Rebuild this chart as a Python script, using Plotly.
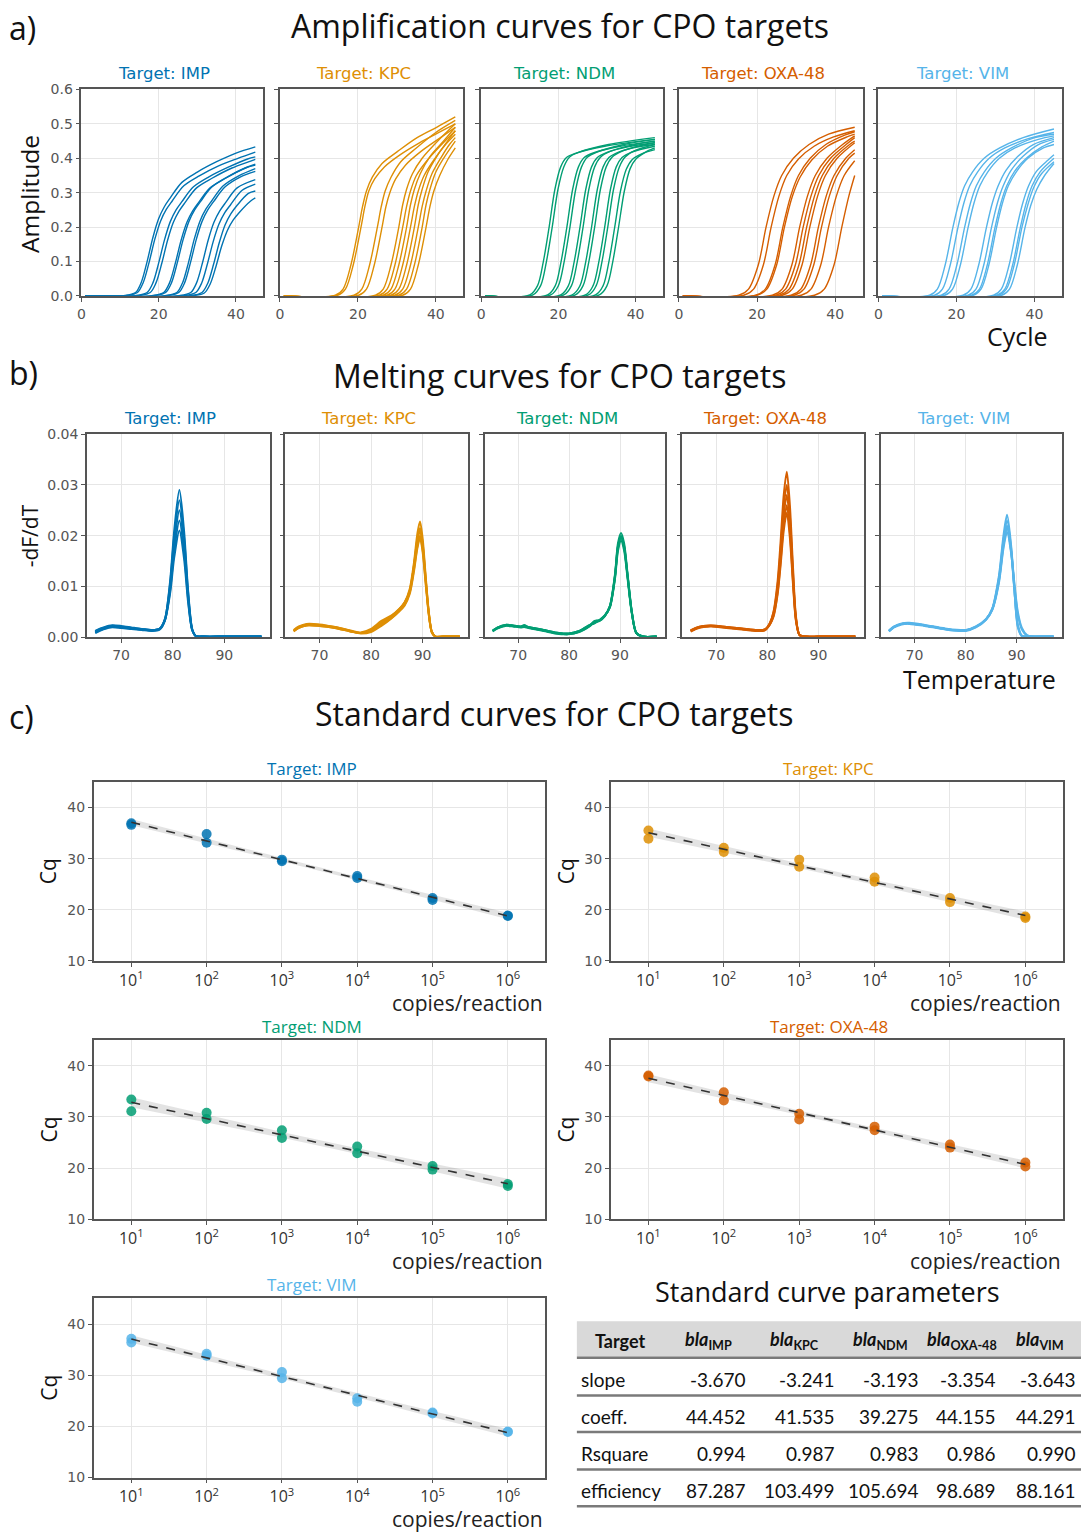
import numpy as np
import plotly.graph_objects as go

W, H = 1081, 1536

targets = ["IMP", "KPC", "NDM", "OXA-48", "VIM"]
colors = ["#0173b2", "#de8f05", "#029e73", "#d55e00", "#56b4e9"]

# ---------------- a) amplification curves (cycle, amplitude) ----------------
amp_imp_x = [
    [1, 11, 14, 15.5, 17, 18.5, 20, 21.5, 23, 26, 30, 35, 40, 45],
    [1, 11.5, 14.5, 16, 17.5, 19, 20.5, 22, 23.5, 26.5, 30.5, 35.5, 40.5, 45],
    [1, 14, 17, 18.5, 20, 21.5, 23, 24.5, 26, 29, 33, 38, 43, 45],
    [1, 14.8, 17.8, 19.3, 20.8, 22.3, 23.8, 25.3, 26.8, 29.8, 33.8, 38.8, 43.8, 45],
    [1, 18.3, 21.3, 22.8, 24.3, 25.8, 27.3, 28.8, 30.3, 33.3, 37.3, 42.3, 45],
    [1, 18.8, 21.8, 23.3, 24.8, 26.3, 27.8, 29.3, 30.8, 33.8, 37.8, 42.8, 45],
    [1, 21.7, 24.7, 26.2, 27.7, 29.2, 30.7, 32.2, 33.7, 36.7, 40.7, 45],
    [1, 22.2, 25.2, 26.7, 28.2, 29.7, 31.2, 32.7, 34.2, 37.2, 41.2, 45],
    [1, 25.3, 28.3, 29.8, 31.3, 32.8, 34.3, 35.8, 37.3, 40.3, 45],
    [1, 26.6, 29.6, 31.1, 32.6, 34.1, 35.6, 37.1, 38.6, 41.6, 45],
    [1, 28.2, 31.2, 32.7, 34.2, 35.7, 37.2, 38.7, 40.2, 43.2, 45],
    [1, 28.8, 31.8, 33.3, 34.8, 36.3, 37.8, 39.3, 40.8, 43.8, 45],
]
amp_imp_y = [
    [0, 0.001, 0.01, 0.04, 0.10, 0.17, 0.225, 0.26, 0.285, 0.33, 0.36, 0.39, 0.415, 0.433],
    [0, 0.001, 0.01, 0.039, 0.097, 0.165, 0.218, 0.252, 0.276, 0.32, 0.349, 0.378, 0.40, 0.418],
    [0, 0.001, 0.01, 0.038, 0.096, 0.163, 0.216, 0.25, 0.274, 0.317, 0.346, 0.374, 0.398, 0.404],
    [0, 0.001, 0.01, 0.038, 0.095, 0.162, 0.214, 0.247, 0.271, 0.314, 0.342, 0.371, 0.392, 0.397],
    [0, 0.001, 0.01, 0.038, 0.095, 0.162, 0.214, 0.247, 0.271, 0.314, 0.342, 0.371, 0.38],
    [0, 0.001, 0.01, 0.038, 0.096, 0.163, 0.216, 0.25, 0.274, 0.317, 0.346, 0.374, 0.383],
    [0, 0.001, 0.01, 0.039, 0.097, 0.165, 0.218, 0.252, 0.276, 0.32, 0.349, 0.37],
    [0, 0.001, 0.01, 0.038, 0.096, 0.163, 0.216, 0.25, 0.274, 0.317, 0.346, 0.362],
    [0, 0.001, 0.01, 0.038, 0.095, 0.162, 0.214, 0.247, 0.271, 0.314, 0.338],
    [0, 0.001, 0.01, 0.037, 0.093, 0.158, 0.209, 0.242, 0.265, 0.307, 0.325],
    [0, 0.001, 0.01, 0.037, 0.092, 0.156, 0.207, 0.239, 0.262, 0.298, 0.305],
    [0, 0.001, 0.0085, 0.034, 0.085, 0.145, 0.191, 0.221, 0.242, 0.276, 0.285],
]

amp_kpc_x = [
    [1, 14.2, 16.2, 18.2, 20.2, 21.2, 22.2, 23.7, 26.2, 30.2, 35.2, 40.2, 45],
    [1, 14.8, 16.8, 18.8, 20.8, 21.8, 22.8, 24.3, 26.8, 30.8, 35.8, 40.8, 45],
    [1, 19, 21, 23, 25, 26, 27, 28.5, 31, 35, 40, 45],
    [1, 20.2, 22.2, 24.2, 26.2, 27.2, 28.2, 29.7, 32.2, 36.2, 41.2, 45],
    [1, 24.5, 26.5, 28.5, 30.5, 31.5, 32.5, 34, 36.5, 40.5, 45],
    [1, 25.5, 27.5, 29.5, 31.5, 32.5, 33.5, 35, 37.5, 41.5, 45],
    [1, 26.5, 28.5, 30.5, 32.5, 33.5, 34.5, 36, 38.5, 42, 45],
    [1, 27.5, 29.5, 31.5, 33.5, 34.5, 35.5, 37, 39.5, 42.5, 45],
    [1, 28.5, 30.5, 32.5, 34.5, 35.5, 36.5, 38, 40.5, 43, 45],
    [1, 29.5, 31.5, 33.5, 35.5, 36.5, 37.5, 39, 41.5, 43.5, 45],
    [1, 30.5, 32.5, 34.5, 36.5, 37.5, 38.5, 40, 42, 45],
    [1, 31.5, 33.5, 35.5, 37.5, 38.5, 39.5, 41, 43, 45],
]
amp_kpc_y = [
    [0, 0.002, 0.02, 0.09, 0.2, 0.26, 0.305, 0.345, 0.385, 0.42, 0.46, 0.49, 0.52],
    [0, 0.002, 0.02, 0.09, 0.2, 0.26, 0.305, 0.34, 0.375, 0.41, 0.445, 0.475, 0.50],
    [0, 0.002, 0.02, 0.09, 0.2, 0.26, 0.305, 0.345, 0.39, 0.43, 0.475, 0.51],
    [0, 0.002, 0.02, 0.09, 0.2, 0.26, 0.30, 0.34, 0.38, 0.42, 0.46, 0.49],
    [0, 0.002, 0.02, 0.09, 0.2, 0.265, 0.31, 0.355, 0.40, 0.45, 0.50],
    [0, 0.002, 0.02, 0.09, 0.2, 0.26, 0.305, 0.35, 0.39, 0.44, 0.48],
    [0, 0.002, 0.02, 0.09, 0.2, 0.265, 0.31, 0.355, 0.405, 0.45, 0.49],
    [0, 0.002, 0.02, 0.09, 0.2, 0.26, 0.305, 0.35, 0.395, 0.44, 0.47],
    [0, 0.002, 0.02, 0.09, 0.2, 0.265, 0.31, 0.36, 0.41, 0.45, 0.48],
    [0, 0.002, 0.02, 0.09, 0.2, 0.26, 0.305, 0.355, 0.405, 0.44, 0.46],
    [0, 0.002, 0.02, 0.09, 0.2, 0.265, 0.31, 0.36, 0.40, 0.45],
    [0, 0.002, 0.02, 0.09, 0.2, 0.26, 0.305, 0.35, 0.395, 0.43],
]

amp_ndm_x = [
    [1, 12.6, 14.6, 16.1, 17.6, 19.1, 20.6, 22.1, 24.6, 32, 45],
    [1, 13.4, 15.4, 16.9, 18.4, 19.9, 21.4, 22.9, 25.4, 33, 45],
    [1, 17.2, 19.2, 20.7, 22.2, 23.7, 25.2, 26.7, 29.2, 36, 45],
    [1, 18, 20, 21.5, 23, 24.5, 26, 27.5, 30, 37, 45],
    [1, 20.6, 22.6, 24.1, 25.6, 27.1, 28.6, 30.1, 32.6, 38, 45],
    [1, 21.4, 23.4, 24.9, 26.4, 27.9, 29.4, 30.9, 33.4, 39, 45],
    [1, 23.6, 25.6, 27.1, 28.6, 30.1, 31.6, 33.1, 35.6, 40, 45],
    [1, 24.4, 26.4, 27.9, 29.4, 30.9, 32.4, 33.9, 36.4, 41, 45],
    [1, 27, 29, 30.5, 32, 33.5, 35, 36.5, 39, 45],
    [1, 27.8, 29.8, 31.3, 32.8, 34.3, 35.8, 37.3, 39.8, 45],
    [1, 29.6, 31.6, 33.1, 34.6, 36.1, 37.6, 39.1, 41.6, 45],
    [1, 30.6, 32.6, 34.1, 35.6, 37.1, 38.6, 40.1, 42.6, 45],
]
amp_ndm_y = [
    [0, 0.003, 0.03, 0.1, 0.2, 0.31, 0.375, 0.402, 0.415, 0.435, 0.455],
    [0, 0.003, 0.03, 0.1, 0.2, 0.31, 0.375, 0.404, 0.418, 0.44, 0.46],
    [0, 0.003, 0.03, 0.1, 0.2, 0.31, 0.375, 0.402, 0.416, 0.435, 0.45],
    [0, 0.003, 0.03, 0.1, 0.2, 0.31, 0.375, 0.403, 0.418, 0.44, 0.455],
    [0, 0.003, 0.03, 0.1, 0.2, 0.31, 0.375, 0.402, 0.417, 0.433, 0.445],
    [0, 0.003, 0.03, 0.1, 0.2, 0.31, 0.375, 0.403, 0.42, 0.438, 0.45],
    [0, 0.003, 0.03, 0.1, 0.2, 0.31, 0.375, 0.402, 0.418, 0.432, 0.44],
    [0, 0.003, 0.03, 0.1, 0.2, 0.31, 0.375, 0.403, 0.42, 0.436, 0.445],
    [0, 0.003, 0.03, 0.1, 0.2, 0.31, 0.375, 0.402, 0.418, 0.435],
    [0, 0.003, 0.03, 0.1, 0.2, 0.31, 0.375, 0.404, 0.422, 0.44],
    [0, 0.003, 0.03, 0.1, 0.2, 0.305, 0.368, 0.396, 0.413, 0.425],
    [0, 0.003, 0.03, 0.1, 0.2, 0.305, 0.37, 0.398, 0.418, 0.43],
]

amp_oxa_x = [
    [1, 15.3, 17.8, 20.3, 22.3, 24.3, 26.3, 29.3, 33.3, 38.3, 45],
    [1, 16.6, 19.1, 21.6, 23.6, 25.6, 27.6, 30.6, 34.6, 39.6, 45],
    [1, 19.6, 22.1, 24.6, 26.6, 28.6, 30.6, 33.6, 37.6, 42.6, 45],
    [1, 20, 22.5, 25, 27, 29, 31, 34, 38, 43, 45],
    [1, 23.9, 26.4, 28.9, 30.9, 32.9, 34.9, 37.9, 41.9, 45],
    [1, 24.8, 27.3, 29.8, 31.8, 33.8, 35.8, 38.8, 42.8, 45],
    [1, 25.7, 28.2, 30.7, 32.7, 34.7, 36.7, 39.7, 43.7, 45],
    [1, 26.5, 29, 31.5, 33.5, 35.5, 37.5, 40.5, 45],
    [1, 28.7, 31.2, 33.7, 35.7, 37.7, 39.7, 42.7, 45],
    [1, 29.5, 32, 34.5, 36.5, 38.5, 40.5, 43.5, 45],
    [1, 31.3, 33.8, 36.3, 38.3, 40.3, 42.3, 45],
    [1, 34.7, 37.2, 39.7, 41.7, 43.5, 45],
]
amp_oxa_y = [
    [0, 0.002, 0.02, 0.09, 0.2, 0.29, 0.35, 0.40, 0.44, 0.47, 0.49],
    [0, 0.002, 0.02, 0.09, 0.2, 0.29, 0.35, 0.398, 0.435, 0.462, 0.48],
    [0, 0.002, 0.02, 0.09, 0.2, 0.29, 0.35, 0.40, 0.44, 0.468, 0.477],
    [0, 0.002, 0.02, 0.09, 0.2, 0.288, 0.345, 0.395, 0.435, 0.462, 0.47],
    [0, 0.002, 0.02, 0.09, 0.2, 0.29, 0.35, 0.40, 0.44, 0.465],
    [0, 0.002, 0.02, 0.09, 0.2, 0.29, 0.35, 0.40, 0.44, 0.46],
    [0, 0.002, 0.02, 0.09, 0.2, 0.29, 0.35, 0.40, 0.44, 0.45],
    [0, 0.002, 0.02, 0.09, 0.2, 0.29, 0.35, 0.40, 0.445],
    [0, 0.002, 0.02, 0.09, 0.2, 0.29, 0.35, 0.40, 0.425],
    [0, 0.002, 0.02, 0.09, 0.2, 0.29, 0.35, 0.40, 0.415],
    [0, 0.002, 0.02, 0.09, 0.2, 0.29, 0.35, 0.393],
    [0, 0.002, 0.02, 0.09, 0.2, 0.29, 0.35],
]

amp_vim_x = [
    [1, 13.1, 15.1, 17.1, 19.1, 20.6, 22.1, 24.1, 27.1, 31.1, 37.1, 45],
    [1, 14.4, 16.4, 18.4, 20.4, 21.9, 23.4, 25.4, 28.4, 32.4, 38.4, 45],
    [1, 16.1, 18.1, 20.1, 22.1, 23.6, 25.1, 27.1, 30.1, 34.1, 40.1, 45],
    [1, 17, 19, 21, 23, 24.5, 26, 28, 31, 35, 41, 45],
    [1, 21.7, 23.7, 25.7, 27.7, 29.2, 30.7, 32.7, 35.7, 39.7, 45],
    [1, 23, 25, 27, 29, 30.5, 32, 34, 37, 41, 45],
    [1, 23.9, 25.9, 27.9, 29.9, 31.4, 32.9, 34.9, 37.9, 41.9, 45],
    [1, 24.3, 26.3, 28.3, 30.3, 31.8, 33.3, 35.3, 38.3, 42.3, 45],
    [1, 29.5, 31.5, 33.5, 35.5, 37, 38.5, 40.5, 43.5, 45],
    [1, 30.4, 32.4, 34.4, 36.4, 37.9, 39.4, 41.4, 45],
    [1, 30.8, 32.8, 34.8, 36.8, 38.3, 39.8, 41.8, 45],
    [1, 31.6, 33.6, 35.6, 37.6, 39.1, 40.6, 42.6, 45],
]
amp_vim_y = [
    [0, 0.002, 0.02, 0.09, 0.2, 0.27, 0.32, 0.36, 0.40, 0.43, 0.46, 0.485],
    [0, 0.002, 0.02, 0.09, 0.2, 0.27, 0.32, 0.36, 0.40, 0.43, 0.457, 0.475],
    [0, 0.002, 0.02, 0.09, 0.2, 0.27, 0.32, 0.36, 0.40, 0.43, 0.46, 0.47],
    [0, 0.002, 0.02, 0.09, 0.2, 0.27, 0.32, 0.36, 0.40, 0.43, 0.455, 0.465],
    [0, 0.002, 0.02, 0.09, 0.2, 0.27, 0.32, 0.365, 0.405, 0.44, 0.46],
    [0, 0.002, 0.02, 0.09, 0.2, 0.27, 0.32, 0.365, 0.405, 0.44, 0.455],
    [0, 0.002, 0.02, 0.09, 0.2, 0.27, 0.32, 0.362, 0.40, 0.433, 0.45],
    [0, 0.002, 0.02, 0.09, 0.2, 0.27, 0.32, 0.36, 0.40, 0.43, 0.44],
    [0, 0.002, 0.02, 0.09, 0.2, 0.27, 0.32, 0.362, 0.395, 0.41],
    [0, 0.002, 0.02, 0.09, 0.2, 0.27, 0.32, 0.36, 0.40],
    [0, 0.002, 0.02, 0.09, 0.2, 0.265, 0.315, 0.355, 0.39],
    [0, 0.002, 0.02, 0.09, 0.2, 0.265, 0.31, 0.35, 0.385],
]

# ---------------- b) melting curves (temperature, -dF/dT) ----------------
melt_imp_temp = [65, 66, 68, 70, 72, 74, 76, 77.5, 78.5, 79.5, 80.3, 81.3, 82.2, 83, 83.8, 84.5, 86, 90, 94, 97.2]
melt_imp_y = [
    [0.0009, 0.0014, 0.0020, 0.0019, 0.0017, 0.0015, 0.0013, 0.0016, 0.0035, 0.0110, 0.0210, 0.0290, 0.0210, 0.0090, 0.0015, 0.0002, 0.0001, 0.0001, 0.0001, 0.0001],
    [0.0011, 0.0016, 0.0022, 0.0021, 0.0018, 0.0016, 0.0014, 0.0017, 0.0036, 0.0105, 0.0198, 0.0270, 0.0197, 0.0086, 0.0015, 0.0002, 0.0001, 0.0001, 0.0001, 0.0001],
    [0.0008, 0.0013, 0.0019, 0.0018, 0.0016, 0.0014, 0.0012, 0.0015, 0.0033, 0.0098, 0.0184, 0.0250, 0.0183, 0.0080, 0.0014, 0.0002, 0.0001, 0.0001, 0.0001, 0.0001],
    [0.0010, 0.0015, 0.0021, 0.0020, 0.0017, 0.0015, 0.0013, 0.0016, 0.0033, 0.0092, 0.0170, 0.0230, 0.0169, 0.0074, 0.0013, 0.0002, 0.0001, 0.0001, 0.0001, 0.0001],
    [0.0012, 0.0017, 0.0023, 0.0022, 0.0019, 0.0016, 0.0014, 0.0017, 0.0034, 0.0086, 0.0157, 0.0210, 0.0155, 0.0068, 0.0013, 0.0002, 0.0001, 0.0001, 0.0001, 0.0001],
]

melt_kpc_temp = [65, 66, 67.5, 70, 73, 76, 78, 80, 82, 84, 85.5, 86.5, 87.5, 88.3, 89, 89.5, 90, 90.6, 91.2, 91.8, 92.5, 94, 97.2]
melt_kpc_y = [
    [0.0012, 0.0019, 0.0024, 0.0023, 0.0019, 0.0012, 0.0008, 0.0012, 0.0026, 0.0040, 0.0055, 0.0068, 0.0095, 0.0145, 0.0205, 0.0228, 0.0195, 0.0120, 0.0050, 0.0010, 0.0001, 0.0001, 0.0001],
    [0.0014, 0.0021, 0.0026, 0.0025, 0.0020, 0.0013, 0.0009, 0.0016, 0.0032, 0.0043, 0.0056, 0.0068, 0.0092, 0.0138, 0.0190, 0.0210, 0.0182, 0.0113, 0.0047, 0.0010, 0.0001, 0.0001, 0.0001],
    [0.0011, 0.0018, 0.0023, 0.0022, 0.0018, 0.0011, 0.0007, 0.0010, 0.0022, 0.0037, 0.0052, 0.0064, 0.0088, 0.0132, 0.0180, 0.0200, 0.0173, 0.0108, 0.0045, 0.0009, 0.0001, 0.0001, 0.0001],
    [0.0013, 0.0020, 0.0025, 0.0024, 0.0020, 0.0012, 0.0008, 0.0014, 0.0029, 0.0042, 0.0055, 0.0067, 0.0090, 0.0140, 0.0195, 0.0215, 0.0186, 0.0115, 0.0048, 0.0010, 0.0001, 0.0001, 0.0001],
    [0.0012, 0.0018, 0.0023, 0.0022, 0.0018, 0.0011, 0.0008, 0.0013, 0.0024, 0.0038, 0.0051, 0.0062, 0.0085, 0.0128, 0.0176, 0.0195, 0.0168, 0.0105, 0.0044, 0.0009, 0.0001, 0.0001, 0.0001],
]

melt_ndm_temp = [65, 66, 67.5, 69, 70.5, 71.2, 72, 75, 78, 80, 82, 84, 85, 86, 87, 88, 89, 89.6, 90.2, 90.8, 91.5, 92.3, 93.2, 94.5, 97.2]
melt_ndm_y = [
    [0.0012, 0.0018, 0.0023, 0.0022, 0.0020, 0.0024, 0.0019, 0.0013, 0.0007, 0.0006, 0.0011, 0.0022, 0.0031, 0.0033, 0.0042, 0.0060, 0.0120, 0.0180, 0.0200, 0.0180, 0.0120, 0.0050, 0.0008, 0.0001, 0.0001],
    [0.0013, 0.0019, 0.0024, 0.0023, 0.0021, 0.0021, 0.0020, 0.0014, 0.0008, 0.0007, 0.0012, 0.0024, 0.0027, 0.0034, 0.0043, 0.0059, 0.0117, 0.0175, 0.0195, 0.0176, 0.0118, 0.0049, 0.0008, 0.0001, 0.0001],
    [0.0011, 0.0017, 0.0022, 0.0021, 0.0019, 0.0020, 0.0018, 0.0012, 0.0006, 0.0006, 0.0010, 0.0021, 0.0029, 0.0032, 0.0041, 0.0061, 0.0123, 0.0185, 0.0205, 0.0185, 0.0123, 0.0052, 0.0009, 0.0001, 0.0001],
    [0.0013, 0.0019, 0.0024, 0.0023, 0.0021, 0.0022, 0.0020, 0.0014, 0.0008, 0.0007, 0.0012, 0.0023, 0.0028, 0.0033, 0.0042, 0.0058, 0.0114, 0.0170, 0.0190, 0.0171, 0.0114, 0.0048, 0.0008, 0.0001, 0.0001],
    [0.0012, 0.0018, 0.0023, 0.0022, 0.0020, 0.0021, 0.0019, 0.0013, 0.0007, 0.0006, 0.0011, 0.0022, 0.0032, 0.0033, 0.0042, 0.0060, 0.0119, 0.0178, 0.0198, 0.0178, 0.0119, 0.0050, 0.0008, 0.0001, 0.0001],
]

melt_oxa_temp = [65, 66, 67.5, 69, 72, 75, 78, 79.5, 80.5, 81.2, 82, 82.6, 83.2, 83.8, 84.4, 85, 85.6, 86.3, 87.5, 90, 94, 97.2]
melt_oxa_y = [
    [0.0012, 0.0017, 0.0021, 0.0022, 0.0019, 0.0016, 0.0013, 0.0014, 0.0028, 0.0050, 0.0110, 0.0190, 0.0280, 0.0326, 0.0260, 0.0140, 0.0040, 0.0004, 0.0001, 0.0001, 0.0001, 0.0001],
    [0.0013, 0.0018, 0.0022, 0.0023, 0.0020, 0.0017, 0.0014, 0.0015, 0.0028, 0.0048, 0.0102, 0.0175, 0.0258, 0.0300, 0.0240, 0.0129, 0.0037, 0.0004, 0.0001, 0.0001, 0.0001, 0.0001],
    [0.0011, 0.0016, 0.0020, 0.0021, 0.0018, 0.0015, 0.0012, 0.0013, 0.0026, 0.0045, 0.0095, 0.0163, 0.0240, 0.0280, 0.0224, 0.0120, 0.0035, 0.0004, 0.0001, 0.0001, 0.0001, 0.0001],
    [0.0012, 0.0017, 0.0021, 0.0022, 0.0019, 0.0016, 0.0013, 0.0014, 0.0025, 0.0042, 0.0088, 0.0151, 0.0223, 0.0260, 0.0208, 0.0112, 0.0033, 0.0004, 0.0001, 0.0001, 0.0001, 0.0001],
    [0.0013, 0.0018, 0.0022, 0.0023, 0.0020, 0.0017, 0.0014, 0.0015, 0.0025, 0.0040, 0.0084, 0.0143, 0.0210, 0.0245, 0.0196, 0.0106, 0.0031, 0.0004, 0.0001, 0.0001, 0.0001, 0.0001],
]

melt_vim_temp = [65, 66, 67.5, 69, 72, 76, 80, 82, 84, 85.2, 86.5, 87.4, 88.1, 88.9, 89.5, 90.2, 91, 92, 93, 95, 97.2]
melt_vim_y = [
    [0.0012, 0.0020, 0.0026, 0.0027, 0.0023, 0.0016, 0.0013, 0.0020, 0.0035, 0.0056, 0.0120, 0.0200, 0.0241, 0.0180, 0.0100, 0.0020, 0.0002, 0.0001, 0.0001, 0.0001, 0.0001],
    [0.0013, 0.0021, 0.0027, 0.0028, 0.0024, 0.0017, 0.0014, 0.0021, 0.0036, 0.0055, 0.0112, 0.0185, 0.0220, 0.0168, 0.0096, 0.0025, 0.0003, 0.0001, 0.0001, 0.0001, 0.0001],
    [0.0011, 0.0019, 0.0025, 0.0026, 0.0022, 0.0015, 0.0012, 0.0019, 0.0034, 0.0053, 0.0106, 0.0175, 0.0207, 0.0165, 0.0105, 0.0045, 0.0015, 0.0003, 0.0001, 0.0001, 0.0001],
    [0.0012, 0.0020, 0.0026, 0.0027, 0.0023, 0.0016, 0.0013, 0.0020, 0.0035, 0.0054, 0.0110, 0.0180, 0.0215, 0.0170, 0.0110, 0.0050, 0.0018, 0.0004, 0.0001, 0.0001, 0.0001],
    [0.0012, 0.0020, 0.0026, 0.0027, 0.0023, 0.0016, 0.0013, 0.0020, 0.0035, 0.0055, 0.0116, 0.0192, 0.0230, 0.0175, 0.0098, 0.0022, 0.0002, 0.0001, 0.0001, 0.0001, 0.0001],
]

# ---------------- c) standard curves ----------------
std_copies = [1e1, 1e1, 1e2, 1e2, 1e3, 1e3, 1e4, 1e4, 1e5, 1e5, 1e6, 1e6]
std_imp_cq = [36.9, 36.6, 34.8, 33.1, 29.8, 29.5, 26.6, 26.2, 22.3, 21.9, 18.9, 18.8]
std_kpc_cq = [35.5, 33.9, 32.1, 31.3, 29.8, 28.4, 26.3, 25.5, 22.3, 21.5, 18.7, 18.4]
std_ndm_cq = [33.4, 31.1, 30.8, 29.6, 27.4, 25.9, 24.2, 22.9, 20.4, 19.7, 16.9, 16.5]
std_oxa_cq = [38.1, 37.9, 34.8, 33.2, 30.6, 29.5, 28.1, 27.4, 24.6, 24.0, 21.1, 20.3]
std_vim_cq = [37.1, 36.4, 34.2, 33.8, 30.6, 29.4, 25.5, 24.8, 22.7, 22.5, 19.0, 18.9]
std_tick_vals = [1e1, 1e2, 1e3, 1e4, 1e5, 1e6]
std_tick_text = ["10<sup>1</sup>", "10<sup>2</sup>", "10<sup>3</sup>", "10<sup>4</sup>", "10<sup>5</sup>", "10<sup>6</sup>"]

# table
table_header = ["Target", "<i>bla</i><sub>IMP</sub>", "<i>bla</i><sub>KPC</sub>",
                "<i>bla</i><sub>NDM</sub>", "<i>bla</i><sub>OXA-48</sub>", "<i>bla</i><sub>VIM</sub>"]
table_rows = ["slope", "coeff.", "Rsquare", "efficiency"]
slope_vals = [-3.670, -3.241, -3.193, -3.354, -3.643]
coeff_vals = [44.452, 41.535, 39.275, 44.155, 44.291]
rsq_vals = [0.994, 0.987, 0.983, 0.986, 0.990]
eff_vals = [87.287, 103.499, 105.694, 98.689, 88.161]

amp_x_all = [amp_imp_x, amp_kpc_x, amp_ndm_x, amp_oxa_x, amp_vim_x]
amp_y_all = [amp_imp_y, amp_kpc_y, amp_ndm_y, amp_oxa_y, amp_vim_y]
melt_t_all = [melt_imp_temp, melt_kpc_temp, melt_ndm_temp, melt_oxa_temp, melt_vim_temp]
melt_y_all = [melt_imp_y, melt_kpc_y, melt_ndm_y, melt_oxa_y, melt_vim_y]
std_cq_all = [std_imp_cq, std_kpc_cq, std_ndm_cq, std_oxa_cq, std_vim_cq]

# ---------------- layout helpers ----------------
layout = dict(width=W, height=H, margin=dict(l=0, r=0, t=0, b=0),
              paper_bgcolor="white", plot_bgcolor="white", showlegend=False,
              font=dict(family="DejaVu Sans", size=14, color="#555"))
annotations = []
shapes = []
traces = []
n_axes = [0]

AX_COMMON = dict(showline=True, mirror=True, linecolor="#555", linewidth=1.5,
                 ticks="outside", ticklen=4, tickcolor="#555", tickwidth=1.2,
                 showgrid=True, gridcolor="#e6e6e6", gridwidth=1, zeroline=False,
                 fixedrange=True)


def add_axes(xpx, ypx, xopts, yopts):
    n_axes[0] += 1
    s = "" if n_axes[0] == 1 else str(n_axes[0])
    layout["xaxis" + s] = dict(AX_COMMON, domain=[xpx[0] / W, xpx[1] / W], anchor="y" + s, **xopts)
    layout["yaxis" + s] = dict(AX_COMMON, domain=[1 - ypx[1] / H, 1 - ypx[0] / H], anchor="x" + s, **yopts)
    return "x" + s, "y" + s


def text(x, y, t, size, color="#111", family="Open Sans", xanchor="center", angle=0):
    annotations.append(dict(x=x / W, y=1 - y / H, xref="paper", yref="paper", text=t,
                            showarrow=False, xanchor=xanchor, yanchor="middle",
                            textangle=angle, font=dict(family=family, size=size, color=color)))


tick_font = dict(family="DejaVu Sans", size=14, color="#555")

# ---------------- a) amplification ----------------
amp_xpx = [(77.7, 260), (277, 460.8), (479, 661), (677.5, 861.7), (877.7, 1061.7)]
amp_ypx = (82.3, 291)
for i, tgt in enumerate(targets):
    xa, ya = add_axes(amp_xpx[i], amp_ypx,
                      dict(range=[0, 47], tickvals=[0, 20, 40], tickfont=tick_font),
                      dict(range=[0, 0.6], tickvals=[0, 0.1, 0.2, 0.3, 0.4, 0.5, 0.6],
                           tickformat=".1f", showticklabels=(i == 0), tickfont=tick_font))
    for cx, cy in zip(amp_x_all[i], amp_y_all[i]):
        traces.append(go.Scatter(x=cx, y=cy, mode="lines", xaxis=xa, yaxis=ya,
                                 line=dict(color=colors[i], width=1.4, shape="spline", smoothing=0.9),
                                 hoverinfo="skip"))
    cxp = (amp_xpx[i][0] + amp_xpx[i][1]) / 2 - 8
    text(cxp, 66, "Target: " + tgt, 16.5, color=colors[i], family="DejaVu Sans")

text(3, 20, "a)", 32, xanchor="left")
text(558, 18, "Amplification curves for CPO targets", 32)
text(25, 188, "Amplitude", 24.5, angle=-90)
text(1050, 331, "Cycle", 25, xanchor="right")

# ---------------- b) melting ----------------
melt_xpx = [(83.3, 266.7), (282.5, 465.7), (482.3, 663.3), (681, 862.7), (880, 1061.7)]
melt_ypx = (430.7, 635.7)
for i, tgt in enumerate(targets):
    xa, ya = add_axes(melt_xpx[i], melt_ypx,
                      dict(range=[63.4, 98.8], tickvals=[70, 80, 90], tickfont=tick_font),
                      dict(range=[0, 0.04], tickvals=[0, 0.01, 0.02, 0.03, 0.04],
                           tickformat=".2f", showticklabels=(i == 0), tickfont=tick_font))
    for cy in melt_y_all[i]:
        traces.append(go.Scatter(x=melt_t_all[i], y=cy, mode="lines", xaxis=xa, yaxis=ya,
                                 line=dict(color=colors[i], width=2, shape="spline", smoothing=0.8),
                                 hoverinfo="skip"))
    cxp = (melt_xpx[i][0] + melt_xpx[i][1]) / 2 - 8
    text(cxp, 415, "Target: " + tgt, 16.5, color=colors[i], family="DejaVu Sans")

text(3, 368, "b)", 32, xanchor="left")
text(558, 371, "Melting curves for CPO targets", 32)
text(27, 533, "-dF/dT", 21, angle=-90)
text(1058, 678, "Temperature", 25, xanchor="right")

# ---------------- c) standard curves ----------------
std_pos = [((90, 543.5), (782, 963)), ((609, 1063), (782, 963)),
           ((90, 543.5), (1043, 1224)), ((609, 1063), (1043, 1224)),
           ((90, 543.5), (1304, 1485))]
for i, tgt in enumerate(targets):
    xpx, ypx = std_pos[i]
    xa, ya = add_axes(xpx, ypx,
                      dict(type="log", range=[0.5, 6.5], tickvals=std_tick_vals, ticktext=std_tick_text,
                           tickfont=dict(family="Open Sans", size=16, color="#333")),
                      dict(range=[10, 45], tickvals=[10, 20, 30, 40], tickfont=tick_font))
    lx = np.log10(np.array(std_copies))
    cq = np.array(std_cq_all[i])
    b, a = np.polyfit(lx, cq, 1)
    res = cq - (a + b * lx)
    n = len(cq)
    s_res = np.sqrt(np.sum(res ** 2) / (n - 2))
    xg = np.log10(np.array(std_tick_vals))
    yfit = a + b * xg
    se = s_res * np.sqrt(1 / n + (xg - lx.mean()) ** 2 / np.sum((lx - lx.mean()) ** 2))
    hw = 2.228 * se
    traces.append(go.Scatter(x=std_tick_vals, y=yfit - hw, mode="lines", xaxis=xa, yaxis=ya,
                             line=dict(width=0, color="rgba(0,0,0,0)"), hoverinfo="skip"))
    traces.append(go.Scatter(x=std_tick_vals, y=yfit + hw, mode="lines", xaxis=xa, yaxis=ya,
                             fill="tonexty", fillcolor="rgba(0,0,0,0.11)",
                             line=dict(width=0, color="rgba(0,0,0,0)"), hoverinfo="skip"))
    traces.append(go.Scatter(x=std_copies, y=std_cq_all[i], mode="markers", xaxis=xa, yaxis=ya,
                             marker=dict(color=colors[i], size=10, opacity=0.85, line=dict(width=0)),
                             hoverinfo="skip"))
    traces.append(go.Scatter(x=std_tick_vals, y=yfit, mode="lines", xaxis=xa, yaxis=ya,
                             line=dict(color="#333", width=1.6, dash="dash"), hoverinfo="skip"))
    cxp = (xpx[0] + xpx[1]) / 2 - 8
    text(cxp, ypx[0] - 14, "Target: " + tgt, 17, color=colors[i])
    text(xpx[1], ypx[1] + 42, "copies/reaction", 21, color="#222", xanchor="right")
    text(xpx[0] - 45, (ypx[0] + ypx[1]) / 2, "Cq", 21, angle=-90)

text(3, 716, "c)", 32, xanchor="left")
text(553, 713, "Standard curves for CPO targets", 32)

# ---------------- table ----------------
text(827, 1297, "Standard curve parameters", 27)
shapes.append(dict(type="rect", xref="paper", yref="paper", x0=575 / W, x1=1081 / W,
                   y0=1 - 1363 / H, y1=1 - 1327 / H, fillcolor="#d9d9d9", line=dict(width=0), layer="below"))
for ly in [1364, 1402, 1439, 1477, 1514]:
    shapes.append(dict(type="line", xref="paper", yref="paper", x0=575 / W, x1=1081 / W,
                       y0=1 - ly / H, y1=1 - ly / H, line=dict(color="#7a7a7a", width=2.5)))
head_x = [618, 707, 793, 880, 962, 1040]
for hx, ht in zip(head_x, table_header):
    text(hx, 1347, "<b>" + ht + "</b>", 18, color="#111", family="Lato")
row_y = [1386, 1423, 1461, 1498]
val_x = [747, 836, 920, 998, 1078]
for ry, rl, vals in zip(row_y, table_rows, [slope_vals, coeff_vals, rsq_vals, eff_vals]):
    text(577, ry, rl, 19, color="#111", family="Lato", xanchor="left")
    for vx, v in zip(val_x, vals):
        text(vx, ry, f"{v:.3f}", 19, color="#111", family="Lato", xanchor="right")

layout["annotations"] = annotations
layout["shapes"] = shapes

fig = go.Figure(data=traces, layout=layout)
fig.write_html("out.html", config={"displayModeBar": False},
               post_script="document.body.style.margin='0';document.body.style.overflow='hidden';")
